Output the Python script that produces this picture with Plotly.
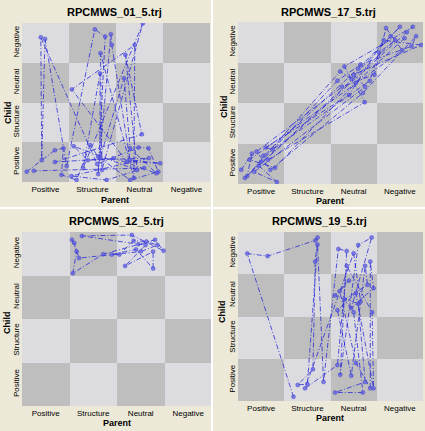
import plotly.graph_objects as go

categories = ["Positive", "Structure", "Neutral", "Negative"]
titles = ["RPCMWS_01_5.trj", "RPCMWS_17_5.trj", "RPCMWS_12_5.trj", "RPCMWS_19_5.trj"]

# Trajectory points: x = Parent (cell units 0-4), y = Child (cell units 0-4)
p01_x = [0.10, 0.70, 0.88, 0.84, 1.16, 1.45, 1.62, 2.30, 2.90, 2.69, 2.48, 1.60, 0.40, 0.42, 0.49, 0.95,
         1.55, 1.77, 1.62, 1.89, 1.91, 2.30, 2.94, 2.23, 1.06, 2.40, 2.38, 1.67, 1.70, 2.57, 1.30, 1.66,
         1.66, 2.17, 2.30, 2.86, 1.95, 0.70, 2.55, 2.20, 2.45, 1.10, 1.40, 2.70, 1.05, 1.80, 2.60, 0.25]
p01_y = [0.26, 0.80, 0.85, 0.18, 0.05, 0.93, 0.64, 0.05, 0.26, 0.85, 0.87, 0.45, 3.64, 0.55, 3.60, 0.40,
         3.84, 3.66, 0.20, 3.72, 3.45, 0.55, 0.47, 0.51, 2.33, 3.45, 0.10, 3.24, 0.30, 3.99, 0.35, 2.73,
         0.60, 2.61, 0.85, 0.22, 0.60, 0.50, 1.20, 3.20, 0.30, 0.90, 0.55, 0.60, 0.15, 0.05, 0.35, 0.28]

p17_x = [0.07, 0.30, 0.20, 2.21, 2.45, 3.50, 3.30, 2.60, 0.55, 0.65, 2.74, 2.30, 3.78, 3.65, 0.45, 0.84,
         0.35, 2.75, 2.50, 3.96, 3.15, 2.40, 0.60, 0.75, 2.85, 3.05, 3.40, 0.15, 0.50, 2.15, 2.65, 3.75,
         3.85, 2.70, 0.70, 0.40, 2.25, 2.95, 3.20, 3.55, 0.25, 0.80, 2.55, 3.60]
p17_y = [0.35, 0.75, 0.20, 2.78, 2.60, 3.88, 3.65, 2.85, 0.70, 0.60, 2.02, 2.90, 3.88, 3.75, 0.45, 0.05,
         0.30, 2.40, 2.70, 3.43, 3.55, 2.20, 0.90, 0.85, 2.55, 3.25, 3.55, 0.15, 0.55, 2.55, 2.95, 3.40,
         3.65, 2.25, 0.35, 0.80, 2.40, 2.70, 3.85, 3.30, 0.60, 0.40, 2.50, 3.60]

p12_x = [1.05, 1.15, 1.07, 1.71, 2.80, 2.98, 2.31, 1.26, 2.45, 2.60, 2.17, 2.76, 2.76, 2.40, 1.89, 2.05,
         2.35, 2.62, 2.85, 2.50, 1.20, 1.10]
p12_y = [3.82, 3.55, 3.05, 3.49, 3.82, 3.57, 3.93, 3.91, 3.72, 3.70, 3.22, 3.55, 3.16, 3.60, 3.48, 3.48,
         3.80, 3.78, 3.70, 3.55, 3.40, 3.75]

p19_x = [1.20, 0.20, 0.64, 1.67, 1.72, 1.67, 1.62, 1.29, 1.50, 1.72, 1.85, 2.17, 2.35, 2.21, 2.60, 2.89,
         2.45, 2.93, 2.86, 2.86, 2.55, 2.20, 2.40, 2.10, 2.60, 2.75, 2.10, 2.70, 2.50, 2.30, 2.80, 2.75,
         2.45, 2.15, 2.55, 2.93, 2.90, 2.35, 2.15, 1.45, 2.50, 2.65]
p19_y = [0.10, 3.49, 3.43, 3.80, 3.87, 3.30, 0.75, 0.38, 0.40, 3.70, 0.45, 3.60, 3.55, 0.62, 3.69, 3.87,
         2.20, 2.67, 3.30, 0.30, 0.90, 2.60, 2.85, 2.50, 2.30, 0.45, 0.20, 0.20, 2.10, 2.40, 2.75, 3.20,
         0.60, 2.15, 2.55, 0.30, 2.10, 3.20, 0.85, 0.30, 3.50, 2.35]

series = [(p01_x, p01_y), (p17_x, p17_y), (p12_x, p12_y), (p19_x, p19_y)]

# checkerboard (dark when col+row even)
cell_centers = [0.5, 1.5, 2.5, 3.5]
board = [[1 if (i + j) % 2 == 0 else 0 for i in range(4)] for j in range(4)]

W, H = 425, 431
# plot areas in pixels: (left, right, top, bottom)
areas = [(22, 210, 23, 182), (238, 423, 22, 184), (22, 212, 232, 406), (238, 423, 232, 401)]
title_pos = [(115, 12), (328, 12), (116, 221), (319, 221)]
parent_pos = [(115, 200), (330, 201), (117, 423), (330, 418)]
child_pos = [(8, 112), (224, 107), (7, 323), (222, 312)]

fig = go.Figure()
layout = dict(
    width=W, height=H, margin=dict(l=0, r=0, t=0, b=0),
    paper_bgcolor="#ECE9D8", plot_bgcolor="#DCDCE0", showlegend=False,
    font=dict(family="Arial, Liberation Sans, sans-serif", color="#000000"),
)
annotations = []
shapes = []

for k, ((xs, ys), (l, r, t, b)) in enumerate(zip(series, areas)):
    n = "" if k == 0 else str(k + 1)
    xa, ya = "x" + n, "y" + n
    fig.add_trace(go.Heatmap(
        x=cell_centers, y=cell_centers, z=board, xaxis=xa, yaxis=ya,
        colorscale=[[0, "#DCDCE0"], [1, "#BEBEBE"]], showscale=False, hoverinfo="skip",
        zmin=0, zmax=1,
    ))
    fig.add_trace(go.Scatter(
        x=xs, y=ys, xaxis=xa, yaxis=ya, mode="lines+markers",
        line=dict(color="rgba(35,35,215,0.85)", width=0.9, dash="5px,2px,1px,2px"),
        marker=dict(size=4, color="rgba(90,90,230,0.7)",
                    line=dict(color="rgba(50,50,200,0.8)", width=0.5)),
    ))
    axcommon = dict(range=[0, 4], showgrid=False, zeroline=False, showline=False, ticks="",
                    tickvals=cell_centers, ticktext=categories,
                    tickfont=dict(size=8, color="#000000"), fixedrange=True)
    layout["xaxis" + n] = dict(axcommon, domain=[l / W, r / W], anchor=ya, ticklabelstandoff=1)
    layout["yaxis" + n] = dict(axcommon, domain=[1 - b / H, 1 - t / H], anchor=xa,
                               tickangle=-90, ticklabelstandoff=0)
    tx, ty = title_pos[k]
    annotations.append(dict(text=titles[k], x=tx / W, y=1 - ty / H, xref="paper", yref="paper",
                            showarrow=False, font=dict(size=11, family="Arial", weight="bold"),
                            xanchor="center", yanchor="middle"))
    px_, py_ = parent_pos[k]
    annotations.append(dict(text="Parent", x=px_ / W, y=1 - py_ / H, xref="paper", yref="paper",
                            showarrow=False, font=dict(size=9, weight="bold"),
                            xanchor="center", yanchor="middle"))
    cx, cy = child_pos[k]
    annotations.append(dict(text="Child", x=cx / W, y=1 - cy / H, xref="paper", yref="paper",
                            showarrow=False, font=dict(size=9, weight="bold"), textangle=-90,
                            xanchor="center", yanchor="middle"))

shapes.append(dict(type="line", xref="paper", yref="paper", x0=212 / W, x1=212 / W, y0=0, y1=1,
                   line=dict(color="#FFFFFF", width=2)))
shapes.append(dict(type="line", xref="paper", yref="paper", x0=0, x1=1, y0=1 - 208 / H, y1=1 - 208 / H,
                   line=dict(color="#FFFFFF", width=2)))
layout["annotations"] = annotations
layout["shapes"] = shapes
fig.update_layout(**layout)
fig.write_html("out.html")
